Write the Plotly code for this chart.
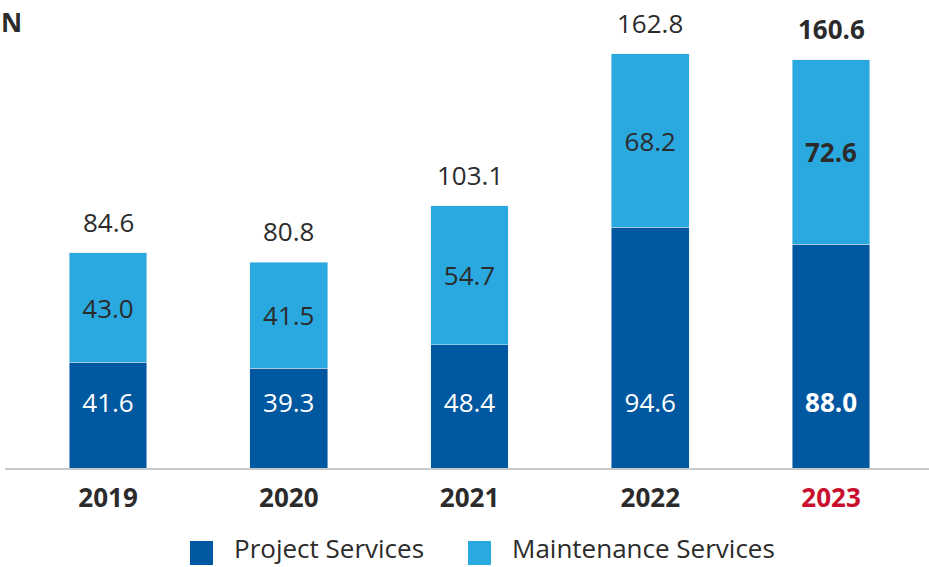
import plotly.graph_objects as go

years = ["2019", "2020", "2021", "2022", "2023"]
project = [41.6, 39.3, 48.4, 94.6, 88.0]
maintenance = [43.0, 41.5, 54.7, 68.2, 72.6]
totals = [84.6, 80.8, 103.1, 162.8, 160.6]
highlight = "2023"
series_names = ["Project Services", "Maintenance Services"]

DARK = "#0058a0"
LIGHT = "#29a9e0"
TXT = "#2b2b2b"
RED = "#c8102e"
FONT = "Open Sans"
LBL = 26


def fmt(v, y):
    s = f"{v:.1f}"
    return f"<b>{s}</b>" if y == highlight else s


xs = list(range(len(years)))
project_label_y = [24.6] * len(years)

fig = go.Figure()
fig.add_trace(go.Bar(
    x=xs, y=project, name=series_names[0], marker_color=DARK,
    width=0.43, hoverinfo="skip", showlegend=False,
))
fig.add_trace(go.Bar(
    x=xs, y=maintenance, name=series_names[1], marker_color=LIGHT,
    width=0.43, hoverinfo="skip", showlegend=False,
    text=[fmt(v, y) for v, y in zip(maintenance, years)],
    textposition="inside", insidetextanchor="middle",
    textfont=dict(family=FONT, size=LBL, color=TXT),
    textangle=0,
))
fig.add_trace(go.Scatter(
    x=xs, y=project_label_y, mode="text", showlegend=False, hoverinfo="skip",
    text=[fmt(v, y) for v, y in zip(project, years)],
    textfont=dict(family=FONT, size=LBL, color="white"),
))

annotations = []
for x, t, y in zip(xs, totals, years):
    annotations.append(dict(
        x=x, y=t, xref="x", yref="y", text=fmt(t, y), showarrow=False,
        xanchor="center", yanchor="bottom", yshift=11,
        font=dict(family=FONT, size=LBL, color=TXT),
    ))

annotations.append(dict(
    text="<b>N</b>", xref="paper", yref="paper", x=-0.0065, y=1.0,
    xanchor="left", yanchor="top", showarrow=False, yshift=-2,
    font=dict(family=FONT, size=26, color=TXT),
))

# custom legend
shapes = []
legend_items = [(series_names[0], DARK, 190, 232), (series_names[1], LIGHT, 468, 510)]
PLOT_L, PLOT_W, PLOT_H = 5, 924, 468
for name, col, sx, tx in legend_items:
    shapes.append(dict(
        type="rect", xref="paper", yref="paper",
        x0=(sx - PLOT_L) / PLOT_W, x1=(sx + 23 - PLOT_L) / PLOT_W,
        y0=(PLOT_H - 541) / PLOT_H, y1=(PLOT_H - 565) / PLOT_H,
        fillcolor=col, line=dict(width=0),
    ))
    annotations.append(dict(
        text=name, xref="paper", yref="paper",
        x=(tx - PLOT_L) / PLOT_W, y=(PLOT_H - 548) / PLOT_H,
        xanchor="left", yanchor="middle", showarrow=False,
        font=dict(family=FONT, size=26, color=TXT),
    ))

ticktext = [f"<span style='color:{RED}'><b>{y}</b></span>" if y == highlight else f"<b>{y}</b>" for y in years]

fig.update_layout(
    width=929, height=567,
    margin=dict(l=5, r=0, t=0, b=99, autoexpand=False),
    barmode="stack",
    plot_bgcolor="white", paper_bgcolor="white",
    font=dict(family=FONT, color=TXT),
    uniformtext=dict(mode=False),
    xaxis=dict(
        range=[-0.57, 4.542], tickvals=xs, ticktext=ticktext,
        tickfont=dict(family=FONT, size=26, color=TXT),
        showline=True, linecolor="#c8c8c8", linewidth=2,
        showgrid=False, zeroline=False, automargin=False,
        ticks="outside", ticklen=6, tickcolor="rgba(0,0,0,0)",
    ),
    yaxis=dict(range=[0, 184], visible=False, showgrid=False, zeroline=False),
    annotations=annotations,
    shapes=shapes,
    showlegend=False,
)

fig.write_html("out.html")
